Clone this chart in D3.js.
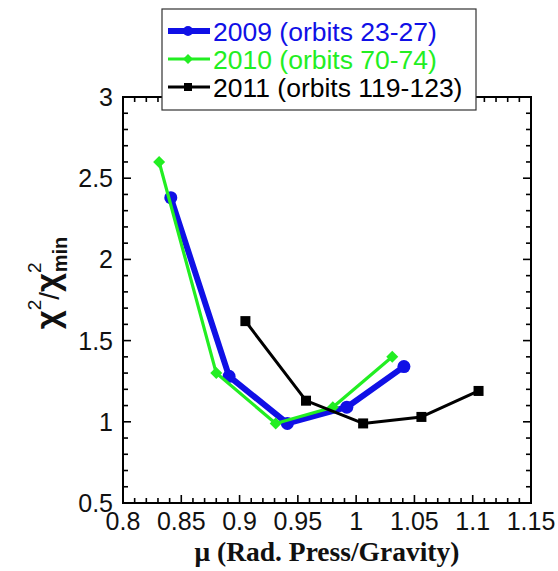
<!DOCTYPE html>
<html>
<head>
<meta charset="utf-8">
<script src="https://cdn.jsdelivr.net/npm/d3@7"></script>
<style>
  html, body { margin: 0; padding: 0; background: #fff; }
  svg { display: block; }
</style>
</head>
<body>
<svg id="chart" width="558" height="571"></svg>
<script>
// Reduced chi-square versus radiation-pressure-to-gravity ratio, three seasons
const mu2009 = [0.841, 0.891, 0.941, 0.992, 1.041];
const chi2009 = [2.38, 1.28, 0.99, 1.09, 1.34];
const mu2010 = [0.831, 0.880, 0.931, 0.980, 1.031];
const chi2010 = [2.60, 1.30, 0.99, 1.09, 1.40];
const mu2011 = [0.905, 0.957, 1.006, 1.056, 1.105];
const chi2011 = [1.62, 1.13, 0.99, 1.03, 1.19];
const seriesLabels = ["2009 (orbits 23-27)", "2010 (orbits 70-74)", "2011 (orbits 119-123)"];
const xTickValues = [0.8, 0.85, 0.9, 0.95, 1, 1.05, 1.1, 1.15];
const yTickValues = [0.5, 1, 1.5, 2, 2.5, 3];

const sans = "'Liberation Sans', Arial, sans-serif";
const serif = "'Liberation Serif', 'Times New Roman', serif";

const svg = d3.select("#chart").style("font-family", sans);
const plotL = 123, plotR = 531, plotT = 97, plotB = 503;

const x = d3.scaleLinear().domain([0.8, 1.15]).range([plotL, plotR]);
const y = d3.scaleLinear().domain([0.5, 3]).range([plotB, plotT]);

const fs = 25;

// Tick marks pointing inward on all four sides
const xMinor = d3.range(80, 116).map(v => v / 100);
const yMinor = d3.range(5, 31).map(v => v / 10);
const isMajorX = v => Math.abs(v * 20 - Math.round(v * 20)) < 1e-6;
const isMajorY = v => Math.abs(v * 2 - Math.round(v * 2)) < 1e-6;

const ticks = svg.append("g").attr("stroke", "#000").attr("stroke-width", 1.6);
xMinor.forEach(v => {
  const len = isMajorX(v) ? 8 : 5;
  const px = x(v);
  ticks.append("line").attr("x1", px).attr("x2", px).attr("y1", plotB).attr("y2", plotB - len);
  ticks.append("line").attr("x1", px).attr("x2", px).attr("y1", plotT).attr("y2", plotT + len);
});
yMinor.forEach(v => {
  const len = isMajorY(v) ? 8 : 5;
  const py = y(v);
  ticks.append("line").attr("x1", plotL).attr("x2", plotL + len).attr("y1", py).attr("y2", py);
  ticks.append("line").attr("x1", plotR).attr("x2", plotR - len).attr("y1", py).attr("y2", py);
});

// Frame
svg.append("rect")
  .attr("x", plotL).attr("y", plotT)
  .attr("width", plotR - plotL).attr("height", plotB - plotT)
  .attr("fill", "none").attr("stroke", "#000").attr("stroke-width", 2);

// Tick labels
svg.append("g").selectAll("text").data(xTickValues).join("text")
  .attr("x", d => x(d)).attr("y", plotB + 27)
  .attr("text-anchor", "middle").attr("font-size", fs).attr("fill", "#111")
  .text(d => d3.format("")(d));

svg.append("g").selectAll("text").data(yTickValues).join("text")
  .attr("x", plotL - 10).attr("y", d => y(d) + 9)
  .attr("text-anchor", "end").attr("font-size", fs).attr("fill", "#111")
  .text(d => d3.format("")(d));

// Axis titles
svg.append("text")
  .attr("x", (plotL + plotR) / 2).attr("y", 561)
  .attr("text-anchor", "middle")
  .style("font-family", serif)
  .attr("font-weight", "bold").attr("font-size", 27.5).attr("fill", "#111")
  .text("μ (Rad. Press/Gravity)");

const yt = svg.append("text")
  .attr("transform", "translate(59,283) rotate(-90)")
  .attr("text-anchor", "middle")
  .attr("font-weight", "bold").attr("font-size", 33).attr("fill", "#111");
yt.append("tspan").text("χ");
yt.append("tspan").attr("font-size", 19).attr("dy", -18).attr("font-weight", "normal").text("2");
yt.append("tspan").attr("font-size", 28).attr("dy", 18).attr("font-weight", "normal").text("/");
yt.append("tspan").attr("font-size", 33).text("χ");
yt.append("tspan").attr("font-size", 19).attr("dy", -18).attr("font-weight", "normal").text("2");
yt.append("tspan").attr("font-size", 20).attr("dx", -10).attr("dy", 26).text("min");

// Series
const line = d3.line().x(d => x(d[0])).y(d => y(d[1]));
const pts = (a, b) => a.map((v, i) => [v, b[i]]);

const blue = "#1010e6", green = "#22ee22", black = "#000";

function drawSeries(data, color, width, marker) {
  svg.append("path").datum(data)
    .attr("d", line).attr("fill", "none")
    .attr("stroke", color).attr("stroke-width", width)
    .attr("stroke-linejoin", "round").attr("stroke-linecap", "round");
  const g = svg.append("g");
  data.forEach(d => marker(g, x(d[0]), y(d[1])));
}

const circle = (r, c) => (g, px, py) => g.append("circle").attr("cx", px).attr("cy", py).attr("r", r).attr("fill", c);
const diamond = (s, c) => (g, px, py) => g.append("path")
  .attr("d", `M${px},${py - s}L${px + s},${py}L${px},${py + s}L${px - s},${py}Z`).attr("fill", c);
const square = (s, c) => (g, px, py) => g.append("rect")
  .attr("x", px - s / 2).attr("y", py - s / 2).attr("width", s).attr("height", s).attr("fill", c);

drawSeries(pts(mu2009, chi2009), blue, 6, circle(6.5, blue));
drawSeries(pts(mu2010, chi2010), green, 3.2, diamond(6, green));
drawSeries(pts(mu2011, chi2011), black, 3, square(10, black));

// Legend
const lg = svg.append("g");
lg.append("rect").attr("x", 162).attr("y", 9).attr("width", 314).attr("height", 101)
  .attr("fill", "#fff").attr("stroke", "#333").attr("stroke-width", 1.2);
const rows = [
  { label: seriesLabels[0], color: blue, w: 6, m: circle(5, blue) },
  { label: seriesLabels[1], color: green, w: 3.2, m: diamond(5, green) },
  { label: seriesLabels[2], color: black, w: 3, m: square(8, black) }
];
rows.forEach((r, i) => {
  const cy = 31 + i * 28;
  lg.append("line").attr("x1", 168).attr("x2", 210).attr("y1", cy).attr("y2", cy)
    .attr("stroke", r.color).attr("stroke-width", r.w);
  r.m(lg, 188, cy);
  lg.append("text").attr("x", 213).attr("y", cy + 10)
    .attr("font-size", 26.5).attr("fill", r.color).text(r.label);
});
</script>
</body>
</html>
